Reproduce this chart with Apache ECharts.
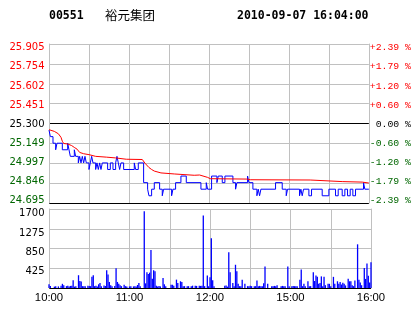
<!DOCTYPE html>
<html><head><meta charset="utf-8">
<script src="https://cdn.jsdelivr.net/npm/echarts@6/dist/echarts.min.js"></script>
<style>html,body{margin:0;padding:0;background:#fff;}#c{width:414px;height:314px;}</style>
</head><body><div id="c"></div>
<script>
// ---------------- data ----------------
const stockCode = '00551';
const stockName = '裕元集团';
const stampText = '2010-09-07 16:04:00';
const prevClose = 25.300;
const priceTicks = ['25.905','25.754','25.602','25.451','25.300','25.149','24.997','24.846','24.695'];
const pctTicks = ['+2.39 %','+1.79 %','+1.20 %','+0.60 %',' 0.00 %','-0.60 %','-1.20 %','-1.79 %','-2.39 %'];
const volTicks = ['1700','1275','850','425'];
const timeTickMinutes = [0, 60, 120, 180, 240];
const timeTickLabels = ['10:00', '11:00', '12:00', '15:00', '16:00'];

// price (step changes): minute index since 10:00 (lunch excluded) and price
const priceMinutes = [0,1,3,5,6,10,14,15,16,19,20,22,23,24,25,26,27,28,30,31,32,33,35,36,37,38,39,40,44,46,48,50,51,52,53,54,56,64,65,67,71,74,75,77,79,83,85,86,92,93,95,99,103,114,118,119,122,126,127,130,132,138,140,141,149,150,153,156,157,158,159,170,175,178,179,188,189,190,191,195,197,205,210,215,217,220,222,224,226,228,230,236,237,240];
const priceValues  = [25.25,25.20,25.15,25.10,25.15,25.10,25.15,25.10,25.05,25.10,25.05,25.00,25.05,25.00,25.05,25.00,25.05,25.00,24.95,25.00,25.05,25.00,24.95,25.00,24.95,25.00,24.95,25.00,24.95,25.00,24.95,25.00,25.05,25.00,24.95,25.00,24.95,25.00,24.95,25.00,24.85,24.80,24.75,24.80,24.85,24.80,24.75,24.80,24.75,24.80,24.85,24.90,24.85,24.80,24.85,24.80,24.90,24.85,24.90,24.85,24.90,24.85,24.80,24.85,24.90,24.85,24.80,24.75,24.80,24.75,24.80,24.85,24.80,24.75,24.80,24.75,24.80,24.75,24.80,24.75,24.80,24.75,24.80,24.75,24.80,24.75,24.80,24.75,24.80,24.75,24.80,24.85,24.80,24.80];

// average price line
const avgMinutes = [0,4,7,9,10,11,14,17,19,21,23,26,30,35,43,50,58,70,71,72,73,75,77,79,84,94,95,109,113,114,119,121,149,151,196,197,220,221,235,236,240];
const avgValues  = [25.253,25.240,25.222,25.195,25.165,25.148,25.144,25.132,25.118,25.105,25.080,25.070,25.063,25.050,25.044,25.038,25.028,25.026,25.012,24.998,24.985,24.965,24.950,24.938,24.924,24.916,24.910,24.906,24.908,24.895,24.890,24.880,24.877,24.872,24.870,24.860,24.858,24.855,24.854,24.848,24.847];

// volume per minute (index = minute since 10:00)
const volumes = [
  80,45,0,0,30,35,0,35,0,50,
  90,60,0,40,50,30,45,50,165,30,
  35,0,275,150,140,40,35,40,0,50,
  45,40,240,275,40,50,30,80,110,40,
  0,55,45,380,290,130,60,40,0,45,
  425,130,90,60,40,0,70,40,30,0,
  35,40,0,35,40,30,65,110,40,0,
  0,1650,100,340,300,330,820,200,380,360,
  50,30,45,35,0,215,80,40,0,0,
  0,70,70,50,0,180,110,0,145,130,
  40,40,0,40,40,0,35,50,0,50,
  45,0,50,45,50,1560,40,0,270,40,
  230,1070,165,40,0,0,0,0,0,0,
  0,50,55,30,770,340,0,105,40,500,
  360,90,40,40,180,0,90,0,40,40,
  50,40,0,40,40,160,40,45,40,40,
  100,460,0,90,0,0,40,40,45,40,
  60,0,0,40,45,40,40,0,460,40,
  0,40,45,40,40,40,0,180,400,40,
  90,40,0,145,40,40,0,340,150,270,
  240,90,110,250,40,240,60,0,90,90,
  40,0,240,90,0,145,90,130,75,115,
  90,55,0,200,145,145,60,40,160,0,
  940,180,120,60,0,430,195,525,265,120,555
];

// ---------------- layout / style ----------------
const GRAY = '#c0c0c0';
const RED = '#ff0000';
const GREEN = '#006600';
const BLUE = '#0000ff';

const priceMax = parseFloat(priceTicks[0]);
const priceMin = parseFloat(priceTicks[priceTicks.length - 1]);
const priceInterval = Math.round((priceMax - priceMin) / (priceTicks.length - 1) * 1e6) / 1e6;
const volMax = parseFloat(volTicks[0]);
const volInterval = volMax / volTicks.length;

// labels are spread slightly tighter than the grid lines (as in the reference)
const priceLabelPos = priceTicks.map(s => prevClose + (parseFloat(s) - prevClose) * 0.96 - 0.005);
const volLabelPos = volTicks.map(s => parseFloat(s) * 0.972 - 54);

function nearest(arr, v) {
  let bi = 0, bd = Infinity;
  arr.forEach((a, i) => { const d = Math.abs(a - v); if (d < bd) { bd = d; bi = i; } });
  return bi;
}
function priceColor(i) {
  const p = parseFloat(priceTicks[i]);
  if (Math.abs(p - prevClose) < 1e-6) return '#000';
  return p > prevClose ? RED : GREEN;
}

const priceSplitColors = priceTicks.slice().reverse().map(s =>
  (Math.abs(parseFloat(s) - prevClose) < 1e-6 || parseFloat(s) === priceMin) ? '#000' : GRAY);
const volSplitColors = ['#000'].concat(volTicks.map(() => GRAY));

const chart = echarts.init(document.getElementById('c'), null, {renderer: 'canvas'});
const xCommon = {
  type: 'value', min: 0, max: 240, interval: 30,
  axisLine: {show: false}, axisTick: {show: false},
  splitLine: {show: true, lineStyle: {color: GRAY, width: 1}}
};
chart.setOption({
  animation: false,
  backgroundColor: '#fff',
  grid: [
    {left: 49, top: 44, width: 322, height: 159},
    {left: 49, top: 209, width: 322, height: 79}
  ],
  xAxis: [
    Object.assign({gridIndex: 0, axisLabel: {show: false}}, xCommon),
    Object.assign({gridIndex: 1, axisLabel: {
      show: true, customValues: timeTickMinutes,
      formatter: v => timeTickLabels[nearest(timeTickMinutes, v)],
      fontFamily: 'Liberation Sans', fontSize: 11.3, color: '#000', margin: 4.5
    }}, xCommon)
  ],
  yAxis: [
    {gridIndex: 0, type: 'value', position: 'left', min: priceMin, max: priceMax, interval: priceInterval,
     axisLine: {show: true, lineStyle: {color: GRAY}}, axisTick: {show: false},
     splitLine: {show: true, lineStyle: {color: priceSplitColors, width: 1}},
     axisLabel: {customValues: priceLabelPos, margin: 4.5,
       formatter: v => priceTicks[nearest(priceLabelPos, v)],
       color: v => priceColor(nearest(priceLabelPos, v)),
       fontFamily: 'DejaVu Sans', fontSize: 10}},
    {gridIndex: 0, type: 'value', position: 'right', min: priceMin, max: priceMax, interval: priceInterval,
     axisLine: {show: true, lineStyle: {color: GRAY}}, axisTick: {show: false}, splitLine: {show: false},
     axisLabel: {customValues: priceLabelPos, margin: 1,
       formatter: v => pctTicks[nearest(priceLabelPos, v)],
       color: v => priceColor(nearest(priceLabelPos, v)),
       fontFamily: 'Liberation Mono', fontSize: 9.8}},
    {gridIndex: 1, type: 'value', position: 'left', min: 0, max: volMax, interval: volInterval,
     axisLine: {show: true, lineStyle: {color: GRAY}}, axisTick: {show: false},
     splitLine: {show: true, lineStyle: {color: volSplitColors, width: 1}},
     axisLabel: {customValues: volLabelPos, margin: 4.5,
       formatter: v => volTicks[nearest(volLabelPos, v)],
       color: '#000', fontFamily: 'DejaVu Sans', fontSize: 10}},
    {gridIndex: 1, type: 'value', position: 'right', min: 0, max: volMax, interval: volInterval,
     axisLine: {show: true, lineStyle: {color: GRAY}}, axisTick: {show: false},
     splitLine: {show: false}, axisLabel: {show: false}}
  ],
  series: [
    {type: 'line', xAxisIndex: 0, yAxisIndex: 0, step: 'end', showSymbol: false, z: 3,
     lineStyle: {color: BLUE, width: 1}, itemStyle: {color: BLUE},
     data: priceMinutes.map((t, i) => [t, priceValues[i]])},
    {type: 'line', xAxisIndex: 0, yAxisIndex: 0, showSymbol: false, z: 4,
     lineStyle: {color: RED, width: 1}, itemStyle: {color: RED},
     data: avgMinutes.map((t, i) => [t, avgValues[i]])},
    {type: 'bar', xAxisIndex: 1, yAxisIndex: 2, barWidth: 1.3,
     itemStyle: {color: BLUE},
     data: volumes.map((v, i) => [i, v])}
  ],
  graphic: [
    {type: 'text', x: 49, y: 16.5, style: {text: stockCode, font: 'bold 11.5px "DejaVu Sans Mono"', fill: '#000', verticalAlign: 'middle'}},
    {type: 'text', x: 105, y: 15.5, style: {text: stockName, font: '12.5px "Noto Sans CJK SC"', fill: '#000', verticalAlign: 'middle'}},
    {type: 'text', x: 237, y: 16.5, style: {text: stampText, font: 'bold 11.5px "DejaVu Sans Mono"', fill: '#000', verticalAlign: 'middle'}}
  ]
});
</script></body></html>
